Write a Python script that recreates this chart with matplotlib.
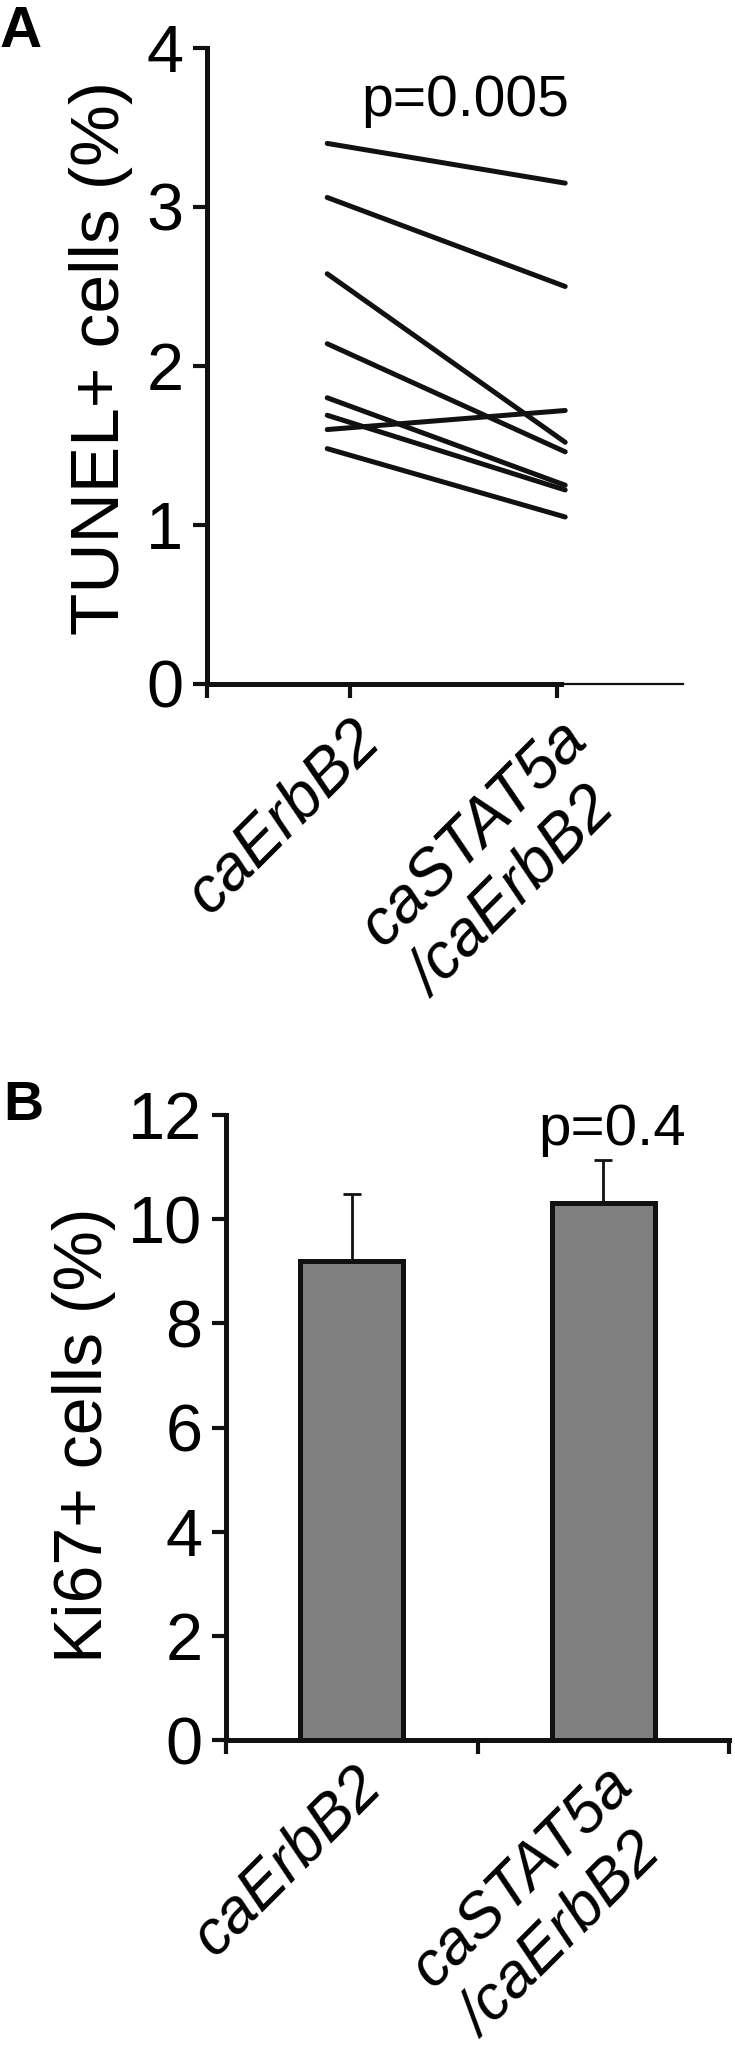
import numpy as np
import matplotlib.pyplot as plt

plt.rcParams['font.family'] = ['Liberation Sans', 'DejaVu Sans']

# Panel A: paired TUNEL+ values per sample (caErbB2 -> caSTAT5a/caErbB2)
tunel_caerbb2 = [3.40, 3.06, 2.58, 2.14, 1.80, 1.69, 1.60, 1.48]
tunel_castat5a = [3.15, 2.50, 1.52, 1.46, 1.25, 1.22, 1.72, 1.05]
groups = ['caErbB2', 'caSTAT5a\n/caErbB2']
p_tunel = 'p=0.005'

# Panel B: Ki67+ means and SEM
ki67_mean = [9.2, 10.32]
ki67_err = [1.28, 0.82]
p_ki67 = 'p=0.4'

fig = plt.figure(figsize=(7.35, 20.52), dpi=100)

# ---- panel A ----
ax1 = fig.add_axes([0.2816, 0.6667, 0.6476, 0.3099])
xmin, xmax = 0.309, 2.609
for a, b in zip(tunel_caerbb2, tunel_castat5a):
    ax1.plot([1 - 0.11, 2 + 0.04], [a, b], color='#111111', lw=3.6,
             solid_capstyle='round')
ax1.set_xlim(xmin, xmax)
ax1.set_ylim(0, 4)
ax1.set_yticks([0, 1, 2, 3, 4])
ax1.set_xticks([1, 2])
ax1.set_xticks([xmin], minor=True)
ax1.set_xticklabels(groups, rotation=45, ha='right', va='top',
                    rotation_mode='anchor', style='italic', fontsize=46,
                    multialignment='left')
ax1.tick_params(axis='y', labelsize=48, length=10, width=3, pad=7,
                color='#111111')
ax1.tick_params(axis='x', which='both', length=10, width=3, pad=8,
                color='#111111')
for s in ['top', 'right']:
    ax1.spines[s].set_visible(False)
ax1.spines['left'].set_linewidth(3.6)
ax1.spines['bottom'].set_linewidth(3.6)
ax1.spines['left'].set_color('#111111')
ax1.spines['bottom'].set_color('#111111')
ax1.spines['bottom'].set_bounds(xmin, 2.02)
ax1.plot([2.02, xmax], [0, 0], color='#111111', lw=1.6, clip_on=False)
ax1.text(1.556, 3.57, p_tunel, fontsize=41, ha='center', va='baseline')
fig.text(101 / 735, 1 - 358 / 2052, 'TUNEL+ cells (%)', rotation=90,
         ha='center', va='center', fontsize=50)
fig.text(0.0, 1 - 5 / 2052, 'A', fontsize=42, fontweight='bold',
         ha='left', va='top')

# ---- panel B ----
ax2 = fig.add_axes([0.3075, 0.1520, 0.6844, 0.3046])
xpos = np.arange(len(ki67_mean)) + 0.5
ax2.bar(xpos, ki67_mean, width=0.41, color='#808080', edgecolor='#111111',
        linewidth=3.6, zorder=2)
ax2.errorbar(xpos, ki67_mean, yerr=[[0, 0], ki67_err], fmt='none',
             ecolor='#111111', elinewidth=2, capsize=6.5, capthick=2,
             zorder=1)
ax2.set_xlim(0, 2)
ax2.set_ylim(0, 12)
ax2.set_yticks(np.arange(0, 13, 2))
ax2.set_xticks(xpos)
ax2.set_xticks([0, 1, 2], minor=True)
ax2.set_xticklabels(groups, rotation=45, ha='right', va='top',
                    rotation_mode='anchor', style='italic', fontsize=45,
                    multialignment='left')
ax2.tick_params(axis='y', labelsize=48, length=10, width=3, pad=7,
                color='#111111')
ax2.tick_params(axis='x', which='major', length=0, pad=11)
ax2.tick_params(axis='x', which='minor', length=10, width=3,
                color='#111111')
for s in ['top', 'right']:
    ax2.spines[s].set_visible(False)
ax2.spines['left'].set_linewidth(3.6)
ax2.spines['bottom'].set_linewidth(3.6)
ax2.spines['left'].set_color('#111111')
ax2.spines['bottom'].set_color('#111111')
ax2.text(1.537, 11.42, p_ki67, fontsize=42, ha='center', va='baseline')
fig.text(84 / 735, 1 - 1435 / 2052, 'Ki67+ cells (%)', rotation=90,
         ha='center', va='center', fontsize=49)
fig.text(0.004, 1 - 1080 / 2052, 'B', fontsize=40, fontweight='bold',
         ha='left', va='top')

fig.savefig('out.png', dpi=100)
